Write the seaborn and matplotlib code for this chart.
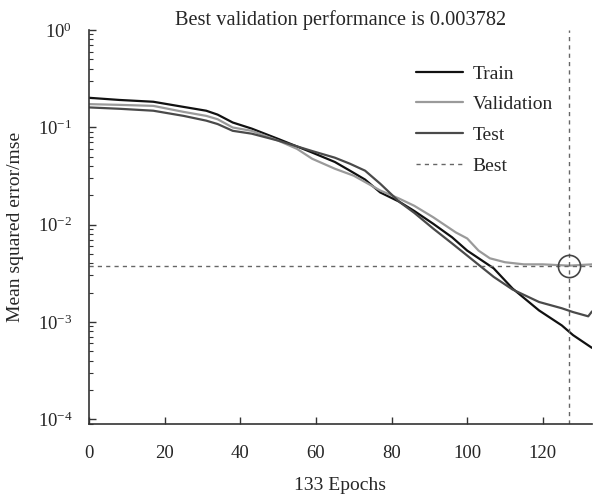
import numpy as np
import pandas as pd
import matplotlib
matplotlib.use("Agg")
import matplotlib.pyplot as plt
from matplotlib.ticker import LogLocator, NullFormatter
import seaborn as sns

# values (epoch, mse)
train_epochs = [0, 8, 17, 25, 31, 34, 38, 43, 50, 59, 65, 69, 73, 77, 82, 86, 91, 96, 100, 107, 112, 119, 125, 128, 133]
train_mse = [0.201, 0.191, 0.183, 0.162, 0.148, 0.135, 0.112, 0.097, 0.076, 0.055, 0.044, 0.0358, 0.029, 0.0214,
             0.0172, 0.0138, 0.0102, 0.0074, 0.0054, 0.00355, 0.0022, 0.00131, 0.00092, 0.00073, 0.00054]

val_epochs = [0, 8, 17, 25, 31, 34, 38, 43, 50, 55, 59, 65, 70, 77, 82, 86, 91, 97, 100, 103, 106, 110, 115, 120, 127, 133]
val_mse = [0.173, 0.170, 0.166, 0.144, 0.131, 0.121, 0.0995, 0.092, 0.073, 0.060, 0.0475, 0.0375, 0.0318, 0.0224,
           0.0185, 0.0156, 0.0119, 0.0083, 0.0072, 0.0054, 0.0045, 0.0041, 0.0039, 0.0039, 0.003782, 0.0039]

test_epochs = [0, 8, 17, 25, 31, 34, 38, 43, 50, 59, 65, 69, 73, 77, 82, 86, 91, 96, 100, 107, 112, 119, 125, 128, 132, 133]
test_mse = [0.160, 0.155, 0.148, 0.131, 0.117, 0.108, 0.092, 0.086, 0.073, 0.057, 0.0487, 0.0422, 0.0358, 0.0263,
            0.0172, 0.0132, 0.0091, 0.0064, 0.0048, 0.0029, 0.00215, 0.0016, 0.00138, 0.00126, 0.00114, 0.00128]

best_epoch = 127
best_mse = 0.003782
n_epochs = 133

sns.set_style("ticks")
plt.rcParams['font.family'] = ['Liberation Serif', 'DejaVu Serif']
plt.rcParams['mathtext.fontset'] = 'custom'
plt.rcParams['mathtext.rm'] = 'Liberation Serif'
plt.rcParams['axes.unicode_minus'] = False
plt.rcParams['xtick.direction'] = 'in'
plt.rcParams['ytick.direction'] = 'in'

fig = plt.figure(figsize=(5.95, 4.97), dpi=100)
ax = fig.add_axes([89/595, 1-424/497, (592-89)/595, (424-30)/497])

sns.lineplot(x=train_epochs, y=train_mse, ax=ax, color='#111111', lw=1.6, label='Train')
sns.lineplot(x=val_epochs, y=val_mse, ax=ax, color='#9a9a9a', lw=1.6, label='Validation')
sns.lineplot(x=test_epochs, y=test_mse, ax=ax, color='#4a4a4a', lw=1.6, label='Test')
ax.axhline(best_mse, color='#666666', lw=1, ls=(0, (3, 3)), label='Best')
ax.axvline(best_epoch, color='#666666', lw=1, ls=(0, (3, 3)))
ax.plot([best_epoch], [best_mse], 'o', mfc='none', mec='#444444', ms=16, mew=1.2)

ax.set_yscale('log')
ax.set_ylim(10**-4.05, 1)
ax.set_xlim(0, n_epochs)
ax.set_xticks(range(0, 121, 20))
ax.yaxis.set_major_locator(LogLocator(base=10, numticks=10))
ax.yaxis.set_minor_locator(LogLocator(base=10, subs=np.arange(2, 10), numticks=20))
ax.yaxis.set_minor_formatter(NullFormatter())
sns.despine(ax=ax)
ax.tick_params(axis='both', which='major', labelsize=13.5, length=5, width=1, color='#333333')
ax.tick_params(axis='y', which='major', pad=12)
ax.tick_params(axis='x', which='major', pad=15)
ax.tick_params(axis='y', which='minor', length=3, width=0.8, color='#333333')
for s in ['left', 'bottom']:
    ax.spines[s].set_color('#333333')
    ax.spines[s].set_linewidth(1.2)

ax.set_title('Best validation performance is 0.003782', fontsize=14.7, pad=1)
ax.set_xlabel('133 Epochs', fontsize=14, labelpad=11)
ax.set_ylabel('Mean squared error/mse', fontsize=14, labelpad=10)

ax.legend(loc='upper left', bbox_to_anchor=(416/595, 1-65/497), bbox_transform=fig.transFigure,
          frameon=False, fontsize=14, handlelength=2.4, handletextpad=0.5, labelspacing=0.67,
          borderpad=0, borderaxespad=0)

fig.savefig('out.png', dpi=100)
